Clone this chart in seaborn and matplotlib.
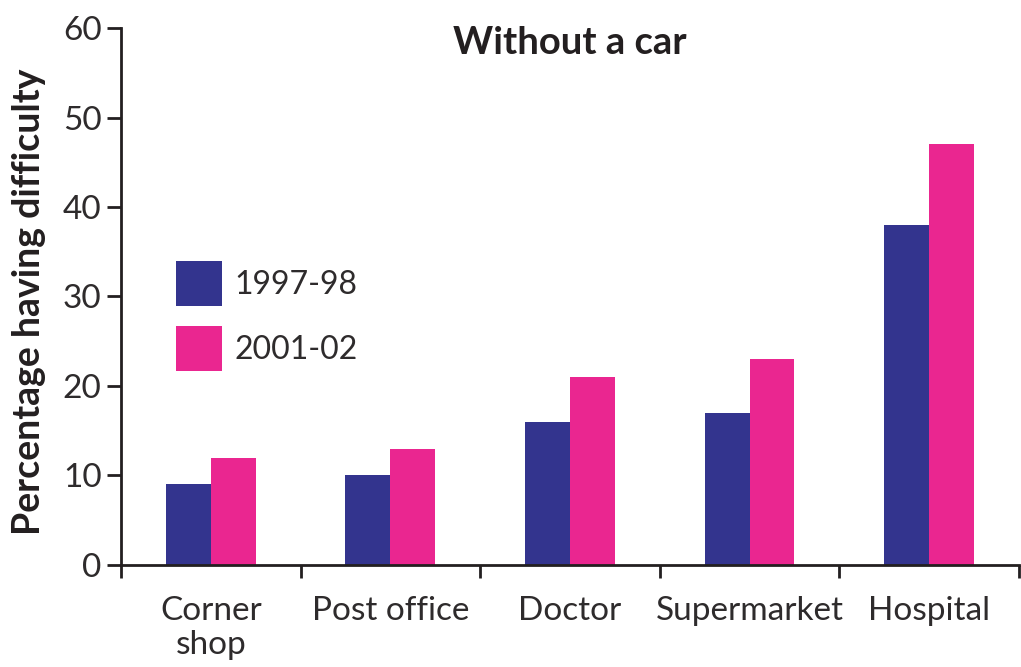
import matplotlib
matplotlib.use("Agg")
import matplotlib.pyplot as plt
import matplotlib.patches as mpatches
import seaborn as sns
import pandas as pd

# Survey data: share of households without a car reporting difficulty
categories = ["Corner\nshop", "Post office", "Doctor", "Supermarket", "Hospital"]
periods = ["1997-98", "2001-02"]
values_1997 = [9, 10, 16, 17, 38]
values_2001 = [12, 13, 21, 23, 47]
y_ticks = [0, 10, 20, 30, 40, 50, 60]

colors = {"1997-98": "#33348E", "2001-02": "#EA2690"}
ink = "#231F20"
label_ink = "#2E2B2C"

df = pd.DataFrame({
    "place": categories * 2,
    "period": [periods[0]] * len(categories) + [periods[1]] * len(categories),
    "pct": values_1997 + values_2001,
})

sns.set_theme(style="white")
plt.rcParams["font.family"] = ["Lato", "DejaVu Sans"]

fig = plt.figure(figsize=(10.21, 6.67), dpi=100)
ax = fig.add_axes([0.1185, 0.153, 0.8795, 0.805])

sns.barplot(data=df, x="place", y="pct", hue="period", order=categories,
            hue_order=periods, palette=colors, width=0.5, saturation=1,
            linewidth=0, ax=ax, legend=False)

ax.set_xlim(-0.5, len(categories) - 0.5)
ax.set_ylim(0, 60)
ax.set_yticks(y_ticks)
ax.set_yticklabels([str(t) for t in y_ticks], fontsize=24, fontweight="normal", color=label_ink)

# Major ticks mark category boundaries; minor ticks carry the labels
ax.set_xticks([i - 0.5 for i in range(len(categories) + 1)])
ax.set_xticklabels([])
ax.set_xticks(range(len(categories)), minor=True)
ax.set_xticklabels(categories, minor=True, fontsize=24, fontweight="normal",
                   color=label_ink, linespacing=1.2)
ax.tick_params(axis="x", which="major", direction="out", length=9.5, width=2,
               color=ink, bottom=True)
ax.tick_params(axis="x", which="minor", length=0, pad=22, bottom=True)
ax.tick_params(axis="y", direction="out", length=10, width=2, color=ink, pad=4, left=True)

for side in ["top", "right"]:
    ax.spines[side].set_visible(False)
for side in ["left", "bottom"]:
    ax.spines[side].set_color(ink)
    ax.spines[side].set_linewidth(2)

ax.set_xlabel("")
ax.set_ylabel("Percentage having difficulty", fontsize=27, fontweight="bold",
              color=ink)
ax.yaxis.set_label_coords(-0.084, 0.49)

ax.text(0.5, 0.972, "Without a car", transform=ax.transAxes, ha="center",
        va="center", fontsize=27.5, fontweight="bold", color=ink)

handles = [mpatches.Patch(facecolor=colors[p], edgecolor="none", label=p) for p in periods]
ax.legend(handles=handles, loc="upper left", bbox_to_anchor=(0.061, 0.566),
          frameon=False, borderpad=0, borderaxespad=0, handlelength=1.45,
          handleheight=1.8, labelspacing=0.62, handletextpad=0.4,
          prop={"size": 23, "weight": "normal"}, labelcolor=label_ink)

fig.savefig("out.png", dpi=100)
